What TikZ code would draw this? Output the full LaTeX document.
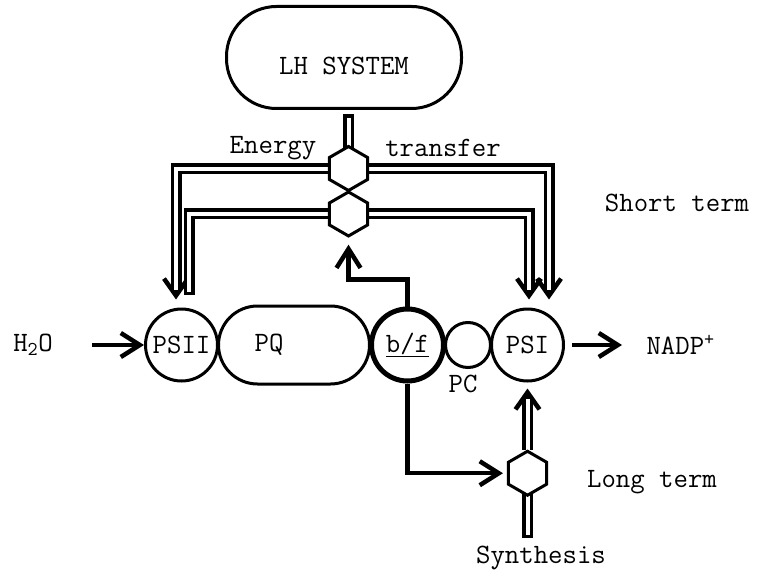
\documentclass[tikz,border=0pt]{standalone}
\usepackage{tikz}
\usetikzlibrary{shapes.geometric, arrows.meta, positioning, backgrounds}

\begin{document}
\begin{tikzpicture}[
    x=1pt, y=1pt,
    node distance=-2pt,
    every node/.style={font=\fontsize{28}{32}\selectfont\ttfamily},
    unit/.style={circle, draw, line width=3pt, minimum size=72pt, inner sep=0pt},
    pool/.style={rectangle, draw, line width=3pt, rounded corners=39pt, minimum width=151pt, minimum height=78pt},
    lhbox/.style={rectangle, draw, line width=3pt, rounded corners=50pt, minimum width=235pt, minimum height=102pt},
    hexa/.style={regular polygon, regular polygon sides=6, shape border rotate=30, draw, fill=white, line width=3pt, minimum size=44pt, inner sep=0pt},
    arrow/.style={-{Straight Barb[length=19pt, width=24pt]}, line width=4.5pt},
    dblline/.style={double, double distance=4pt, line width=3.5pt, line cap=rect},
    dblarrow/.style={double, double distance=4pt, line width=3.5pt, shorten >=10pt},
    dblhead/.style={-{Straight Barb[length=17pt, width=24pt]}, line width=4.5pt}
]
\useasboundingbox (0,0) rectangle (759,574);

% Nodes
\node[lhbox, label={[yshift=-8pt]center:LH SYSTEM}] (lh) at (344,516.5) {};
\node[hexa] (hexA) at (348.5,405.5) {};
\node[hexa, below=of hexA] (hexB) {};
\node[unit] (psii) at (181.5,229) {PSII};
\node[pool, right=of psii, label={[xshift=-25pt]center:PQ}] (pq) {};
\node[unit, line width=5pt, right=of pq] (bf) {\underline{b/f}};
\node[unit, minimum size=45pt, right=of bf] (pc) {};
\node[unit, right=of pc] (psi) {PSI};
\node[below=3pt of pc, xshift=-5pt] (pclabel) {PC};
\node[hexa, below=67pt of psi] (hexC) {};
\node (h2o) at (33,229) {H\textsubscript{2}O};
\node[anchor=west] (nadp) at (643,229) {NADP\textsuperscript{+}};
\node (energy) at (273,426) {Energy};
\node (transfer) at (443,426) {transfer};
\node (short) at (677,371) {Short term};
\node (long) at (652,92) {Long term};
\node (synth) at (541,16) {Synthesis};
\coordinate (lhfoot) at (348.5,454);
\coordinate[below=36pt of hexC.south] (synfoot);
\coordinate (tipA) at ([xshift=-5.5pt, yshift=8pt]psii.north);
\coordinate (tipB) at ([xshift=21.5pt, yshift=8pt]psi.north);
\coordinate (tipC) at ([xshift=1.5pt, yshift=8pt]psi.north);
\coordinate (tipD) at ([yshift=-6pt]psi.south);

% Arrows
\begin{scope}[on background layer]
\foreach \t/\d in {tipA/90, tipB/90, tipC/90, tipD/-90}
    \draw[dblhead] (\t) ++(\d:20) -- (\t);
\draw[dblline] (lhfoot) -- (hexA.north);
\draw[dblarrow] (hexA.west) -| (tipA);
\draw[dblarrow] (hexA.east) -| (tipB);
\draw[dblline, shorten >=18pt] (hexB.west) -| ([xshift=7.5pt]psii.north);
\draw[dblarrow] (hexB.east) -| (tipC);
\draw[dblarrow] (hexC.north) -- (tipD);
\draw[dblline] (synfoot) -- (hexC.south);
\draw[arrow, shorten >=7pt] (bf.north) -- ++(0,27) -| (hexB.south);
\draw[arrow, shorten >=4pt] (bf.south) |- (hexC.west);
\draw[arrow, shorten <=36pt] (h2o) -- (psii);
\draw[arrow, shorten <=7pt, shorten >=21pt] (psi) -- (nadp);
\end{scope}

\end{tikzpicture}
\end{document}
